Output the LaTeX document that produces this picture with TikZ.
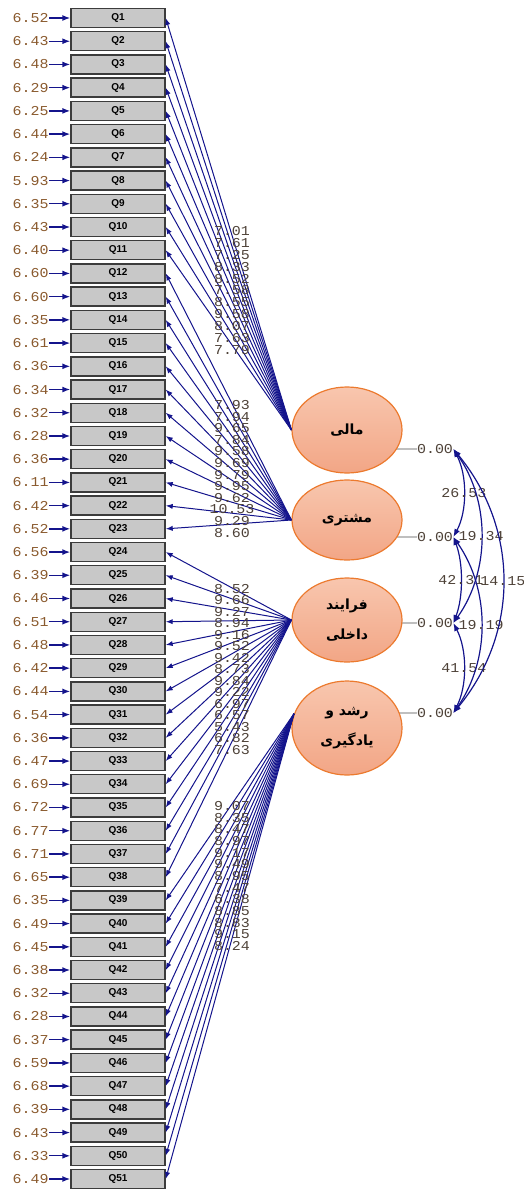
\documentclass[tikz,border=0pt]{standalone}
\usepackage{fontspec}
\usepackage{xcolor}
\usepackage{tikz}
\usetikzlibrary{arrows.meta, backgrounds, shapes.geometric}
\setmainfont{Liberation Sans}
\newfontfamily\numfont[FakeStretch=1.1]{Liberation Mono}
\newfontfamily\farsifont[Script=Arabic]{DejaVu Sans}
\TeXXeTstate=1
\definecolor{pathblue}{HTML}{14148C}
\definecolor{boxgray}{HTML}{C8C8C8}
\definecolor{boxedge}{HTML}{3C3C3C}
\definecolor{errtext}{HTML}{8A5A2E}
\definecolor{valtext}{HTML}{4E4238}
\definecolor{latentfill}{HTML}{F2A686}
\definecolor{latenttop}{HTML}{F8C6AE}
\definecolor{latentedge}{HTML}{EC7A2E}
\newcommand{\fatext}[1]{\beginR #1\endR}

\begin{document}
\begin{tikzpicture}[x=0.5pt, y=-0.5pt,
  qbox/.style={rectangle, draw=boxedge, line width=0.7pt, fill=boxgray,
               minimum width=47pt, minimum height=9.5pt, inner sep=0pt,
               font=\fontsize{5}{6}\selectfont\bfseries},
  latent/.style={ellipse, draw=latentedge, line width=0.6pt,
                 top color=latenttop, bottom color=latentfill,
                 minimum width=55pt, inner sep=0pt, align=center,
                 font=\fontsize{7}{15}\farsifont\bfseries},
  num/.style={font=\fontsize{6.8}{7}\numfont, text=valtext, inner sep=0pt},
  errnum/.style={num, text=errtext},
  load/.style={-{Latex[length=3.5pt, width=2.6pt]}, draw=pathblue, line width=0.5pt},
  err/.style={-{Latex[length=4pt, width=3pt]}, draw=pathblue, line width=0.7pt},
  cov/.style={{Latex[length=4pt, width=3pt]}-{Latex[length=4pt, width=3pt]},
              draw=pathblue, line width=0.6pt},
  fixline/.style={draw=gray!50, line width=0.6pt}
]
\useasboundingbox (0,0) rectangle (524,1189);

% Observed variables with error variances
\foreach \v [count=\i] in {6.52,6.43,6.48,6.29,6.25,6.44,6.24,5.93,6.35,6.43,
    6.40,6.60,6.60,6.35,6.61,6.36,6.34,6.32,6.28,6.36,6.11,6.42,6.52,6.56,
    6.39,6.46,6.51,6.48,6.42,6.44,6.54,6.36,6.47,6.69,6.72,6.77,6.71,6.65,
    6.35,6.49,6.45,6.38,6.32,6.28,6.37,6.59,6.68,6.39,6.43,6.33,6.49} {
  \node[qbox] (q\i) at (118, {18+23.22*(\i-1)}) {Q\i};
  \node[errnum, anchor=east] (e\i) at (49, {18+23.22*(\i-1)}) {\v};
  \draw[err] (e\i) -- (q\i);
}

% Latent variables
\node[latent, minimum height=43pt] (mali) at (347,430) {\fatext{مالی}};
\node[latent, minimum height=40pt] (moshtari) at (347,520) {\fatext{مشتری}};
\node[latent, minimum height=42pt] (farayand) at (347,620) {\fatext{فرایند}\\\fatext{داخلی}};
\node[latent, minimum height=47pt] (roshd) at (347,728) {\fatext{رشد و}\\\fatext{یادگیری}};

% Loadings
\foreach \q in {1,...,11} \draw[load] (mali.west) -- (q\q.east);
\foreach \q in {12,...,23} \draw[load] (moshtari.west) -- (q\q.east);
\foreach \q in {24,...,38} \draw[load] (farayand.west) -- (q\q.east);
\foreach \q in {39,...,51} \draw[load] (roshd.165) -- (q\q.east);

\foreach \v [count=\k from 0] in {7.01,7.61,7.25,8.33,8.52,7.58,8.55,9.58,8.07,7.63,7.79}
  \node[num] (la\k) at (232, {231+11.9*\k}) {\v};
\foreach \v [count=\k from 0] in {7.93,7.94,9.65,7.84,9.58,9.69,9.79,9.95,9.62,10.53,9.29,8.60}
  \node[num] (lb\k) at (232, {405+11.6*\k}) {\v};
\foreach \v [count=\k from 0] in {8.52,9.66,9.27,8.94,9.16,9.52,9.42,8.73,9.84,9.22,6.97,6.57,5.43,6.82,7.63}
  \node[num] (lc\k) at (232, {589+11.5*\k}) {\v};
\foreach \v [count=\k from 0] in {9.07,8.35,8.47,8.97,9.17,9.49,8.95,7.47,6.38,8.85,8.83,9.15,8.24}
  \node[num] (ld\k) at (232, {806+11.67*\k}) {\v};

% Fixed latent variances
\node[num] (z1) at (435,449) {0.00};
\node[num] (z2) at (435,537) {0.00};
\node[num] (z3) at (435,623) {0.00};
\node[num] (z4) at (435,713) {0.00};
\begin{scope}[on background layer]
\draw[fixline] (z1.west) -- (z1.west -| mali.center);
\draw[fixline] (z2.west) -- (z2.west -| moshtari.center);
\draw[fixline] (z3.west) -- (z3.west -| farayand.center);
\draw[fixline] (z4.west) -- (z4.west -| roshd.center);
\end{scope}

% Covariances
\draw[cov] (z1.east) .. controls +(14,26) and +(14,-26) .. (z2.east) node[num, midway] (c12) {26.53};
\draw[cov] (z2.east) .. controls +(10,26) and +(10,-26) .. (z3.east) node[num, midway] (c23) {42.31};
\draw[cov] (z3.east) .. controls +(14,27) and +(14,-27) .. (z4.east) node[num, midway] (c34) {41.54};
\draw[cov] (z1.east) .. controls +(37,52) and +(37,-52) .. (z3.east) node[num, midway] (c13) {19.34};
\draw[cov] (z2.east) .. controls +(37,53) and +(37,-53) .. (z4.east) node[num, midway] (c24) {19.19};
\draw[cov] (z1.east) .. controls +(66,80) and +(66,-80) .. (z4.east) node[num, midway] (c14) {14.15};

\end{tikzpicture}
\end{document}
